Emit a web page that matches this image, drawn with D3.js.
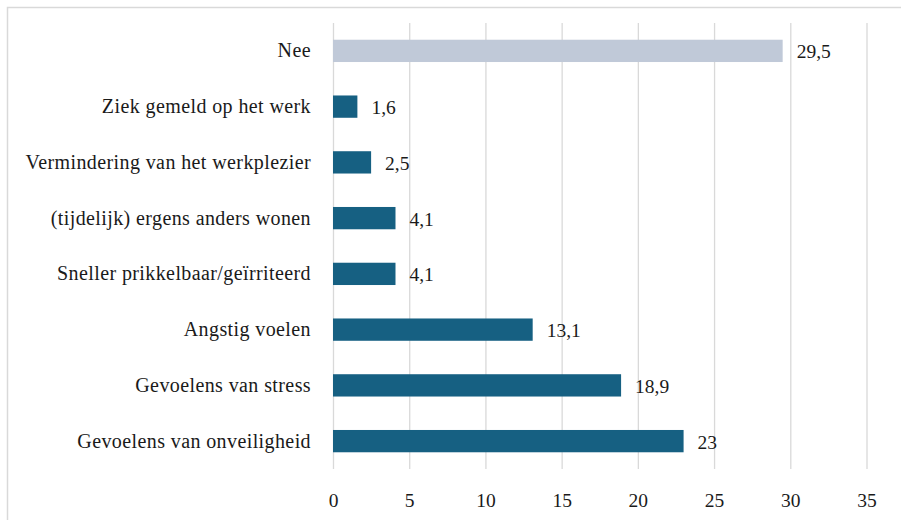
<!DOCTYPE html>
<html>
<head>
<meta charset="utf-8">
<script src="https://cdn.jsdelivr.net/npm/d3@7"></script>
</head>
<body style="margin:0;background:#fff">
<svg id="chart" width="901" height="520" font-family="Liberation Serif"></svg>
<script>
// categories top to bottom
var categories = [
  "Nee",
  "Ziek gemeld op het werk",
  "Vermindering van het werkplezier",
  "(tijdelijk) ergens anders wonen",
  "Sneller prikkelbaar/geïrriteerd",
  "Angstig voelen",
  "Gevoelens van stress",
  "Gevoelens van onveiligheid"
];
var values = [29.5, 1.6, 2.5, 4.1, 4.1, 13.1, 18.9, 23];
var valueLabels = ["29,5", "1,6", "2,5", "4,1", "4,1", "13,1", "18,9", "23"];
var xTicks = [0, 5, 10, 15, 20, 25, 30, 35];

var fontName = "Liberation Serif";
var textColor = "#1a1a1a";

var screen = { width: 901, height: 520 };
var margins = { top: 23, left: 333, right: 34.5, bottom: 51 };
var graph = {
  width: screen.width - margins.left - margins.right,
  height: screen.height - margins.top - margins.bottom
};

var svg = d3.select("#chart");

// outer frame (only top/left visible)
svg.append("rect")
  .attr("x", 7.5).attr("y", 7.5)
  .attr("width", 1000).attr("height", 1000)
  .attr("fill", "none").attr("stroke", "#d9d9d9").attr("stroke-width", 1.5);

var xScale = d3.scaleLinear().domain([0, 35]).range([0, graph.width]);
var yScale = d3.scaleBand().domain(categories).range([0, graph.height])
  .paddingInner(0.6).paddingOuter(0.3);

var g = svg.append("g")
  .attr("transform", "translate(" + margins.left + "," + margins.top + ")");

// gridlines + tick labels
var xAxis = d3.axisBottom(xScale).tickValues(xTicks).tickSize(-graph.height)
  .tickPadding(0).tickFormat(d3.format("d"));
var axisG = g.append("g")
  .attr("transform", "translate(0," + graph.height + ")")
  .call(xAxis)
  .attr("font-family", fontName)
  .attr("font-size", 19.5);
axisG.select(".domain").remove();
axisG.selectAll("line").attr("stroke", "#d9d9d9").attr("stroke-width", 1.3);
axisG.selectAll("text")
  .attr("y", 38).attr("dy", 0)
  .attr("font-family", fontName)
  .attr("fill", textColor);

// bars
g.selectAll("rect.bar")
  .data(values)
  .enter()
  .append("rect")
  .attr("class", "bar")
  .attr("x", xScale(0))
  .attr("y", function (d, i) { return yScale(categories[i]); })
  .attr("width", function (d) { return xScale(d) - xScale(0); })
  .attr("height", yScale.bandwidth())
  .attr("fill", function (d, i) { return i === 0 ? "#c0c9d8" : "#166082"; });

// value labels
g.selectAll("text.val")
  .data(values)
  .enter()
  .append("text")
  .attr("class", "val")
  .attr("x", function (d) { return xScale(d) + 14; })
  .attr("y", function (d, i) { return yScale(categories[i]) + yScale.bandwidth() / 2 + 7.5; })
  .attr("font-family", fontName)
  .attr("font-size", 19.5)
  .attr("fill", textColor)
  .text(function (d, i) { return valueLabels[i]; });

// category labels
g.selectAll("text.cat")
  .data(categories)
  .enter()
  .append("text")
  .attr("class", "cat")
  .attr("text-anchor", "end")
  .attr("x", -22)
  .attr("y", function (d) { return yScale(d) + yScale.bandwidth() / 2 + 6.5; })
  .attr("font-family", fontName)
  .attr("font-size", 20)
  .attr("letter-spacing", 0.4)
  .attr("fill", textColor)
  .text(function (d) { return d; });
</script>
</body>
</html>
